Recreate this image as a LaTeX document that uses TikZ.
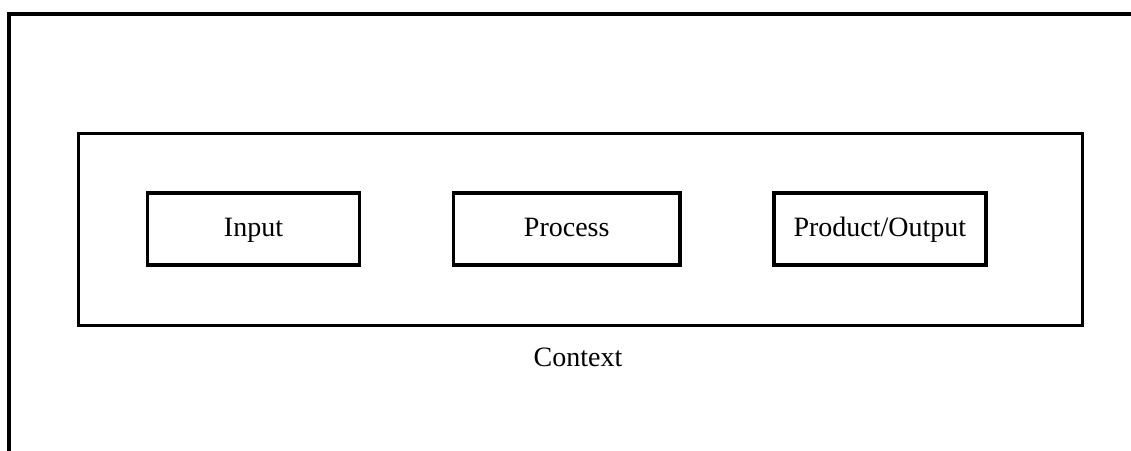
\documentclass[tikz,border=0pt]{standalone}
\usepackage{fontspec}
\setmainfont{Liberation Serif}
\usetikzlibrary{positioning}

\begin{document}
\begin{tikzpicture}[
  x=0.75pt, y=-0.75pt,
  node distance=68pt,
  frame/.style={draw=black, line width=2.3pt},
  block/.style={rectangle, draw=black, line width=2.4pt, minimum width=159pt, minimum height=54pt, text height=1.05em, text depth=0em, font=\fontsize{21}{24}\selectfont},
  label/.style={font=\fontsize{21}{24}\selectfont}
]
  \useasboundingbox (0,0) rectangle (1131,450);
  \clip (0,0) rectangle (1131,450);

  % outer frame, runs off the page
  \draw[frame] (1140,14) -- (9,14) -- (9,460);

  % context box
  \node[draw=black, line width=2.6pt, minimum width=753pt, minimum height=144pt] (ctx) at (580.5,229.5) {};
  \node[label] (ctxlabel) at (578,357) {Context};

  \node[block] (input) at (253.5,229) {Input};
  \node[block, minimum width=170pt, right=of input] (process) {Process};
  \node[block, right=of process] (output) {Product/Output};
\end{tikzpicture}
\end{document}
